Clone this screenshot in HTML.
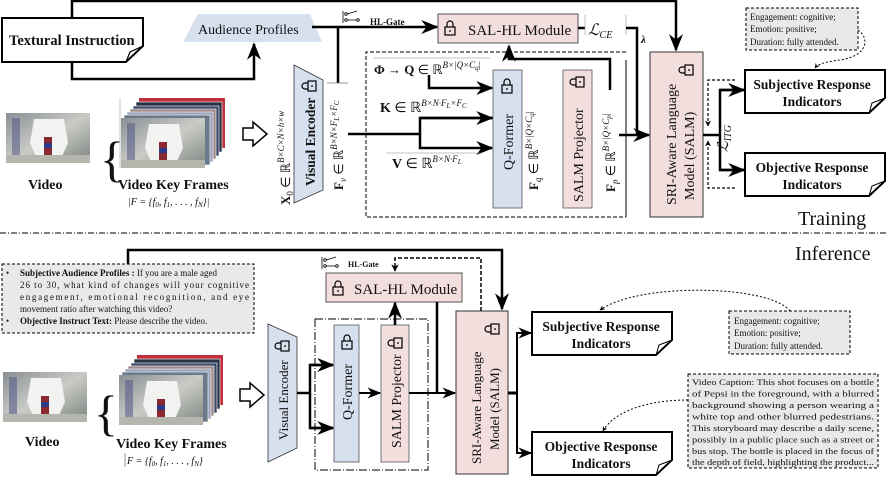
<!DOCTYPE html>
<html><head><meta charset="utf-8"><style>
html,body{margin:0;padding:0;background:#fff}
svg{display:block}
text{font-family:"Liberation Serif",serif;fill:#111}
.b{font-weight:bold}
.m{font-style:italic}
</style></head><body>
<svg width="894" height="482" viewBox="0 0 894 482" xmlns="http://www.w3.org/2000/svg">
<defs>
<marker id="ar" viewBox="0 0 10 10" refX="9" refY="5" markerWidth="5" markerHeight="5" orient="auto-start-reverse"><path d="M0,0 L10,5 L0,10 L3,5 Z" fill="#000"/></marker>
<marker id="as" viewBox="0 0 10 10" refX="9" refY="5" markerWidth="7" markerHeight="7" orient="auto-start-reverse"><path d="M0,1 L10,5 L0,9 L3,5 Z" fill="#000"/></marker>
<g id="lock"><rect x="-5" y="-2" width="10" height="8" fill="none" stroke="#000" stroke-width="1.2"/><path d="M-3,-2 V-5 A3,3 0 0 1 3,-5 V-2" fill="none" stroke="#000" stroke-width="1.2"/><line x1="0" y1="1" x2="0" y2="3" stroke="#000" stroke-width="1.2"/></g>
<g id="sw"><line x1="0" y1="0" x2="0" y2="12" stroke="#000" stroke-width="0.8"/><circle cx="3" cy="3" r="1.3" fill="none" stroke="#000" stroke-width="0.8"/><circle cx="3" cy="9" r="1.3" fill="none" stroke="#000" stroke-width="0.8"/><circle cx="15" cy="9" r="1.3" fill="none" stroke="#000" stroke-width="0.8"/><line x1="4" y1="3" x2="14" y2="0" stroke="#000" stroke-width="0.8"/><line x1="4" y1="9" x2="14" y2="9" stroke="#000" stroke-width="0.8"/></g>
<linearGradient id="ph" x1="0" y1="0" x2="1" y2="1"><stop offset="0" stop-color="#8a8f95"/><stop offset="0.5" stop-color="#c9cbc6"/><stop offset="1" stop-color="#7d8480"/></linearGradient>
<g id="photo"><rect x="0" y="0" width="84" height="50" fill="url(#ph)"/><rect x="6" y="5" width="8" height="40" fill="#5a5f8a" opacity="0.6"/><path d="M28,6 L58,6 L62,30 L54,48 L32,48 L24,30 Z" fill="#f2f2f0"/><rect x="38" y="24" width="8" height="20" fill="#8a2a30"/><rect x="38" y="30" width="8" height="5" fill="#2a3a8a"/><rect x="0" y="42" width="84" height="8" fill="#b5b7ae"/></g>
<g id="stack"><rect x="18" y="-20" width="86" height="50" fill="#c23040"/><rect x="15" y="-16" width="86" height="50" fill="#2a3245" stroke="#fff" stroke-width="0.6"/><rect x="12" y="-12" width="86" height="50" fill="#3c4a6a" stroke="#fff" stroke-width="0.6"/><rect x="9" y="-9" width="86" height="50" fill="#a08a8a" stroke="#fff" stroke-width="0.6"/><rect x="6" y="-6" width="86" height="50" fill="#9aa2b8" stroke="#fff" stroke-width="0.6"/><rect x="3" y="-3" width="86" height="50" fill="#6b7a8a" stroke="#fff" stroke-width="0.6"/><use href="#photo"/></g>
</defs>

<!-- ========== TRAINING ========== -->
<polyline points="72,18 72,1 676,1 676,50" fill="none" stroke="#000" stroke-width="2.5" marker-end="url(#as)"/>
<polyline points="72,62 72,79 254,79 254,44" fill="none" stroke="#000" stroke-width="2.5" marker-end="url(#as)"/>
<path d="M2,18 H143 V46 L126,62 H2 Z" fill="#fff" stroke="#000" stroke-width="2"/>
<path d="M126,62 L130,52 L143,46" fill="none" stroke="#000" stroke-width="1.2"/>
<text x="9" y="45" class="b" font-size="14.5">Textural Instruction</text>
<polygon points="198,14 310,14 322,42 183,42" fill="#d7e0ef"/>
<text x="198" y="34" font-size="14">Audience Profiles</text>
<line x1="312" y1="27" x2="437" y2="27" stroke="#000" stroke-width="2.5" marker-end="url(#as)"/>
<line x1="338" y1="27" x2="338" y2="83" stroke="#000" stroke-width="2.5"/>
<use href="#sw" x="343" y="11"/>
<text x="370" y="25" class="b" font-size="9">HL-Gate</text>
<rect x="438" y="14" width="140" height="29" fill="#f3dede" stroke="#555" stroke-width="1"/>
<use href="#lock" x="450" y="29"/>
<text x="468" y="35" font-size="15">SAL-HL Module</text>
<line x1="578" y1="28" x2="585" y2="28" stroke="#000" stroke-width="2.5"/>
<text x="588" y="35" class="m" font-size="16">ℒ<tspan font-size="10" dy="3">CE</tspan></text>
<line x1="585" y1="15" x2="585" y2="35" stroke="#999" stroke-width="0.6"/>
<line x1="626" y1="15" x2="626" y2="35" stroke="#999" stroke-width="0.6"/>
<polyline points="626,28 637,28 637,135" fill="none" stroke="#000" stroke-width="2.5"/>
<text x="641" y="43" class="b m" font-size="11">λ</text>
<polyline points="626,52 366,52 366,217 626,217" fill="none" stroke="#000" stroke-width="1" stroke-dasharray="4,2"/>
<line x1="626" y1="217" x2="626" y2="60" stroke="#000" stroke-width="1"/>
<polyline points="610,90 610,59 509,59 509,46" fill="none" stroke="#000" stroke-width="2.5" marker-end="url(#as)"/>
<text transform="translate(290,205) rotate(-90)" font-size="13"><tspan class="b">X</tspan><tspan font-size="9" dy="3">0</tspan><tspan dy="-3"> ∈ ℝ</tspan><tspan font-size="9" dy="-6" class="m">B×C×N×h×w</tspan></text>
<polygon points="294,65 323,80 323,190 294,203" fill="#d7e0ef" stroke="#333" stroke-width="0.8"/>
<text transform="translate(315,186) rotate(-90)" class="b" font-size="13.5">Visual Encoder</text>
<use href="#lock" transform="translate(310,86) rotate(-90)"/>
<line x1="327" y1="83" x2="348" y2="83" stroke="#777" stroke-width="0.7"/>
<text transform="translate(343,190) rotate(-90)" font-size="13"><tspan class="b">F</tspan><tspan font-size="9" dy="3" class="m">v</tspan><tspan dy="-3"> ∈ ℝ</tspan><tspan font-size="9" dy="-6" class="m">B×N×F</tspan><tspan font-size="7" dy="2" class="m">L</tspan><tspan font-size="9" dy="-2" class="m">×F</tspan><tspan font-size="7" dy="2" class="m">C</tspan></text>
<polyline points="348,134 420,134" fill="none" stroke="#000" stroke-width="2.5"/>
<polyline points="493,118 420,118 420,148 492,148" fill="none" stroke="#000" stroke-width="2.5" marker-end="url(#as)"/>
<line x1="420" y1="118" x2="492" y2="118" stroke="#000" stroke-width="2.5" marker-end="url(#as)"/>
<polyline points="429,75 429,88 492,88" fill="none" stroke="#000" stroke-width="2.5" marker-end="url(#as)"/>
<line x1="373" y1="58" x2="490" y2="58" stroke="#888" stroke-width="0.6"/>
<text x="374" y="74" font-size="13"><tspan class="b">Φ</tspan> → <tspan class="b">Q</tspan> ∈ ℝ<tspan font-size="9" dy="-6" class="m">B×|Q×C</tspan><tspan font-size="7" dy="2" class="m">q</tspan><tspan font-size="9" dy="-2">|</tspan></text>
<text x="380" y="112" font-size="14"><tspan class="b">K</tspan> ∈ ℝ<tspan font-size="9" dy="-6" class="m">B×N·F</tspan><tspan font-size="7" dy="2" class="m">L</tspan><tspan font-size="9" dy="-2" class="m">×F</tspan><tspan font-size="7" dy="2" class="m">C</tspan></text>
<line x1="386" y1="153" x2="482" y2="153" stroke="#888" stroke-width="0.6"/>
<text x="392" y="168" font-size="14"><tspan class="b">V</tspan> ∈ ℝ<tspan font-size="9" dy="-6" class="m">B×N·F</tspan><tspan font-size="7" dy="2" class="m">L</tspan></text>
<rect x="493" y="70" width="29" height="138" fill="#d7e0ef" stroke="#555" stroke-width="0.8"/>
<use href="#lock" x="507" y="87"/>
<text transform="translate(513,170) rotate(-90)" font-size="14">Q-Former</text>
<text transform="translate(538,190) rotate(-90)" font-size="13"><tspan class="b">F</tspan><tspan font-size="9" dy="3" class="m">q</tspan><tspan dy="-3"> ∈ ℝ</tspan><tspan font-size="9" dy="-6" class="m">B×|Q×C</tspan><tspan font-size="7" dy="2" class="m">q</tspan><tspan font-size="9" dy="-2">|</tspan></text>
<rect x="563" y="70" width="29" height="138" fill="#f3dede" stroke="#555" stroke-width="0.8"/>
<text transform="translate(583,202) rotate(-90)" font-size="14">SALM Projector</text>
<use href="#lock" transform="translate(578,82) rotate(-90)"/>
<text transform="translate(615,192) rotate(-90)" font-size="13"><tspan class="b">F</tspan><tspan font-size="9" dy="3" class="m">p</tspan><tspan dy="-3"> ∈ ℝ</tspan><tspan font-size="9" dy="-6" class="m">B×|Q×C</tspan><tspan font-size="7" dy="2" class="m">p</tspan><tspan font-size="9" dy="-2">|</tspan></text>
<line x1="619" y1="135" x2="649" y2="135" stroke="#000" stroke-width="2.5" marker-end="url(#as)"/>
<rect x="650" y="52" width="53" height="165" fill="#f3dede" stroke="#333" stroke-width="1"/>
<use href="#lock" transform="translate(687,70) rotate(-90)"/>
<text transform="translate(676,205) rotate(-90)" font-size="14">SRI-Aware Language</text>
<text transform="translate(694,200) rotate(-90)" font-size="14">Model (SALM)</text>
<line x1="703" y1="135" x2="720" y2="135" stroke="#000" stroke-width="2.5"/>
<polyline points="744,90 720,90 720,170 744,170" fill="none" stroke="#000" stroke-width="2.5"/>
<line x1="720" y1="90" x2="744" y2="90" stroke="#000" stroke-width="2.5" marker-end="url(#as)"/>
<line x1="720" y1="170" x2="744" y2="170" stroke="#000" stroke-width="2.5" marker-end="url(#as)"/>
<polyline points="735,80 708,80 708,126" fill="none" stroke="#000" stroke-width="1.2" stroke-dasharray="3,2" marker-end="url(#ar)"/>
<polyline points="735,188 708,188 708,141" fill="none" stroke="#000" stroke-width="1.2" stroke-dasharray="3,2" marker-end="url(#ar)"/>
<text transform="translate(728,152) rotate(-90)" class="m" font-size="15">ℒ<tspan font-size="10" dy="3">ITG</tspan></text>
<path d="M745,70 H885 V98 L869,113 H745 Z" fill="#fff" stroke="#000" stroke-width="2"/>
<path d="M869,113 L872,103 L885,98" fill="none" stroke="#000" stroke-width="1"/>
<text x="812" y="89" text-anchor="middle" class="b" font-size="13.5">Subjective Response</text>
<text x="812" y="106" text-anchor="middle" class="b" font-size="13.5">Indicators</text>
<path d="M745,153 H885 V181 L869,196 H745 Z" fill="#fff" stroke="#000" stroke-width="2"/>
<path d="M869,196 L872,186 L885,181" fill="none" stroke="#000" stroke-width="1"/>
<text x="812" y="172" text-anchor="middle" class="b" font-size="13.5">Objective Response</text>
<text x="812" y="189" text-anchor="middle" class="b" font-size="13.5">Indicators</text>
<rect x="746" y="8" width="112" height="42" fill="#e9e9e9" stroke="#000" stroke-width="1" stroke-dasharray="3,2"/>
<text x="750" y="20" font-size="9">Engagement: cognitive;</text>
<text x="750" y="32" font-size="9">Emotion: positive;</text>
<text x="750" y="45" font-size="9">Duration: fully attended.</text>
<path d="M858,30 C870,38 868,56 840,60 C825,62 818,64 815,68" fill="none" stroke="#000" stroke-width="1" stroke-dasharray="2,2" marker-end="url(#ar)"/>
<text x="798" y="225" font-size="20">Training</text>
<use href="#photo" x="6" y="113"/>
<text x="28" y="189" class="b" font-size="14">Video</text>
<text x="100" y="176" font-size="50" font-weight="100">{</text>
<use href="#stack" x="121" y="118"/>
<line x1="120" y1="98" x2="120" y2="168" stroke="#999" stroke-width="0.6"/>
<text x="118" y="189" class="b" font-size="14">Video Key Frames</text>
<text x="128" y="205" class="m" font-size="10">|F = {f<tspan font-size="7" dy="2">0</tspan><tspan dy="-2">, f</tspan><tspan font-size="7" dy="2">1</tspan><tspan dy="-2">, . . . , f</tspan><tspan font-size="7" dy="2">N</tspan><tspan dy="-2">}|</tspan></text>
<path d="M243,128 H253 V122 L267,134 L253,146 V140 H243 Z" fill="#fff" stroke="#000" stroke-width="1.5"/>

<line x1="0" y1="233" x2="886" y2="233" stroke="#000" stroke-width="1" stroke-dasharray="6,2,1,2"/>

<!-- ========== INFERENCE ========== -->
<text x="795" y="260" font-size="20">Inference</text>
<polyline points="128,264 128,250 502,250 502,309" fill="none" stroke="#000" stroke-width="2.5" marker-end="url(#as)"/>
<polyline points="481,311 481,258 395,258 395,271" fill="none" stroke="#000" stroke-width="1.5" stroke-dasharray="4,2" marker-end="url(#ar)"/>
<use href="#sw" x="322" y="257"/>
<text x="348" y="267" class="b" font-size="8">HL-Gate</text>
<rect x="326" y="273" width="136" height="29" fill="#f3dede" stroke="#555" stroke-width="1"/>
<use href="#lock" x="338" y="289"/>
<text x="354" y="294" font-size="15">SAL-HL Module</text>
<line x1="437" y1="302" x2="437" y2="393" stroke="#000" stroke-width="2.5"/>
<rect x="2" y="264" width="252" height="69" fill="#e9e9e9" stroke="#000" stroke-width="1" stroke-dasharray="3,2"/>
<text x="6" y="276" font-size="9">•</text>
<text x="20" y="276" font-size="9"><tspan class="b">Subjective Audience Profiles :</tspan> If you are a male aged</text>
<text x="20" y="288" font-size="9" textLength="229" lengthAdjust="spacing">26 to 30, what kind of changes will your cognitive</text>
<text x="20" y="300" font-size="9" textLength="229" lengthAdjust="spacing">engagement, emotional recognition, and eye</text>
<text x="20" y="312" font-size="9">movement ratio after watching this video?</text>
<text x="6" y="324" font-size="9">•</text>
<text x="20" y="324" font-size="9"><tspan class="b">Objective Instruct Text:</tspan> Please describe the video.</text>
<use href="#photo" x="3" y="372"/>
<text x="25" y="446" class="b" font-size="14">Video</text>
<text x="94" y="430" font-size="50" font-weight="100">{</text>
<use href="#stack" x="119" y="375"/>
<text x="116" y="448" class="b" font-size="14">Video Key Frames</text>
<line x1="125" y1="453" x2="125" y2="467" stroke="#555" stroke-width="0.6"/>
<text x="127" y="464" class="m" font-size="10">F = {f<tspan font-size="7" dy="2">0</tspan><tspan dy="-2">, f</tspan><tspan font-size="7" dy="2">1</tspan><tspan dy="-2">, . . . , f</tspan><tspan font-size="7" dy="2">N</tspan><tspan dy="-2">}</tspan></text>
<path d="M240,389 H250 V383 L264,395 L250,407 V401 H240 Z" fill="#fff" stroke="#000" stroke-width="1.5"/>
<polygon points="268,324 297,337 297,448 268,462" fill="#d7e0ef" stroke="#333" stroke-width="0.8"/>
<text transform="translate(288,440) rotate(-90)" font-size="13">Visual Encoder</text>
<use href="#lock" transform="translate(283,346) rotate(-90)"/>
<line x1="297" y1="393" x2="310" y2="393" stroke="#000" stroke-width="2.5"/>
<polyline points="333,365 310,365 310,428 333,428" fill="none" stroke="#000" stroke-width="2.5"/>
<line x1="310" y1="365" x2="333" y2="365" stroke="#000" stroke-width="2.5" marker-end="url(#as)"/>
<line x1="310" y1="428" x2="333" y2="428" stroke="#000" stroke-width="2.5" marker-end="url(#as)"/>
<rect x="315" y="319" width="113" height="151" fill="none" stroke="#000" stroke-width="1" stroke-dasharray="8,2,1,2"/>
<rect x="334" y="325" width="25" height="137" fill="#d7e0ef" stroke="#555" stroke-width="0.8"/>
<use href="#lock" x="347" y="343"/>
<text transform="translate(352,420) rotate(-90)" font-size="14">Q-Former</text>
<line x1="359" y1="393" x2="380" y2="393" stroke="#000" stroke-width="2" marker-end="url(#as)"/>
<rect x="381" y="325" width="28" height="137" fill="#f3dede" stroke="#555" stroke-width="0.8"/>
<text transform="translate(401,448) rotate(-90)" font-size="14">SALM Projector</text>
<use href="#lock" transform="translate(396,343) rotate(-90)"/>
<line x1="395" y1="325" x2="395" y2="303" stroke="#000" stroke-width="2.5" marker-end="url(#as)"/>
<line x1="409" y1="393" x2="455" y2="393" stroke="#000" stroke-width="2" marker-end="url(#as)"/>
<rect x="456" y="311" width="52" height="163" fill="#f3dede" stroke="#333" stroke-width="1"/>
<use href="#lock" transform="translate(493,329) rotate(-90)"/>
<text transform="translate(481,464) rotate(-90)" font-size="13">SRI-Aware Language</text>
<text transform="translate(499,450) rotate(-90)" font-size="13">Model (SALM)</text>
<line x1="508" y1="393" x2="517" y2="393" stroke="#000" stroke-width="3"/>
<polyline points="531,333 517,333 517,453 531,453" fill="none" stroke="#000" stroke-width="2"/>
<line x1="517" y1="333" x2="531" y2="333" stroke="#000" stroke-width="2" marker-end="url(#as)"/>
<line x1="517" y1="453" x2="531" y2="453" stroke="#000" stroke-width="2" marker-end="url(#as)"/>
<path d="M532,312 H672 V340 L656,355 H532 Z" fill="#fff" stroke="#000" stroke-width="2"/>
<path d="M656,355 L659,345 L672,340" fill="none" stroke="#000" stroke-width="1"/>
<text x="601" y="331" text-anchor="middle" class="b" font-size="13.5">Subjective Response</text>
<text x="601" y="348" text-anchor="middle" class="b" font-size="13.5">Indicators</text>
<path d="M532,432 H672 V460 L656,475 H532 Z" fill="#fff" stroke="#000" stroke-width="2"/>
<path d="M656,475 L659,465 L672,460" fill="none" stroke="#000" stroke-width="1"/>
<text x="601" y="451" text-anchor="middle" class="b" font-size="13.5">Objective Response</text>
<text x="601" y="468" text-anchor="middle" class="b" font-size="13.5">Indicators</text>
<rect x="729" y="311" width="121" height="43" fill="#e9e9e9" stroke="#000" stroke-width="1" stroke-dasharray="3,2"/>
<text x="734" y="324" font-size="9">Engagement: cognitive;</text>
<text x="734" y="336" font-size="9">Emotion: positive;</text>
<text x="734" y="349" font-size="9">Duration: fully attended.</text>
<path d="M790,311 C770,285 640,282 600,310" fill="none" stroke="#000" stroke-width="1" stroke-dasharray="2,2" marker-end="url(#ar)"/>
<rect x="688" y="374" width="190" height="94" fill="#e9e9e9" stroke="#000" stroke-width="1" stroke-dasharray="3,2"/>
<g font-size="8.4">
<text x="692" y="385" textLength="182" lengthAdjust="spacingAndGlyphs">Video Caption: This shot focuses on a bottle</text>
<text x="692" y="396.5" textLength="182" lengthAdjust="spacingAndGlyphs">of Pepsi in the foreground, with a blurred</text>
<text x="692" y="408" textLength="182" lengthAdjust="spacingAndGlyphs">background showing a person wearing a</text>
<text x="692" y="419.5" textLength="182" lengthAdjust="spacingAndGlyphs">white top and other blurred pedestrians.</text>
<text x="692" y="431" textLength="182" lengthAdjust="spacingAndGlyphs">This storyboard may describe a daily scene,</text>
<text x="692" y="442.5" textLength="182" lengthAdjust="spacingAndGlyphs">possibly in a public place such as a street or</text>
<text x="692" y="454" textLength="182" lengthAdjust="spacingAndGlyphs">bus stop. The bottle is placed in the focus of</text>
<text x="692" y="465" textLength="182" lengthAdjust="spacingAndGlyphs">the depth of field, highlighting the product...</text>
</g>
<path d="M688,400 C650,400 615,410 603,431" fill="none" stroke="#000" stroke-width="1" stroke-dasharray="2,2" marker-end="url(#ar)"/>
</svg>
</body></html>
